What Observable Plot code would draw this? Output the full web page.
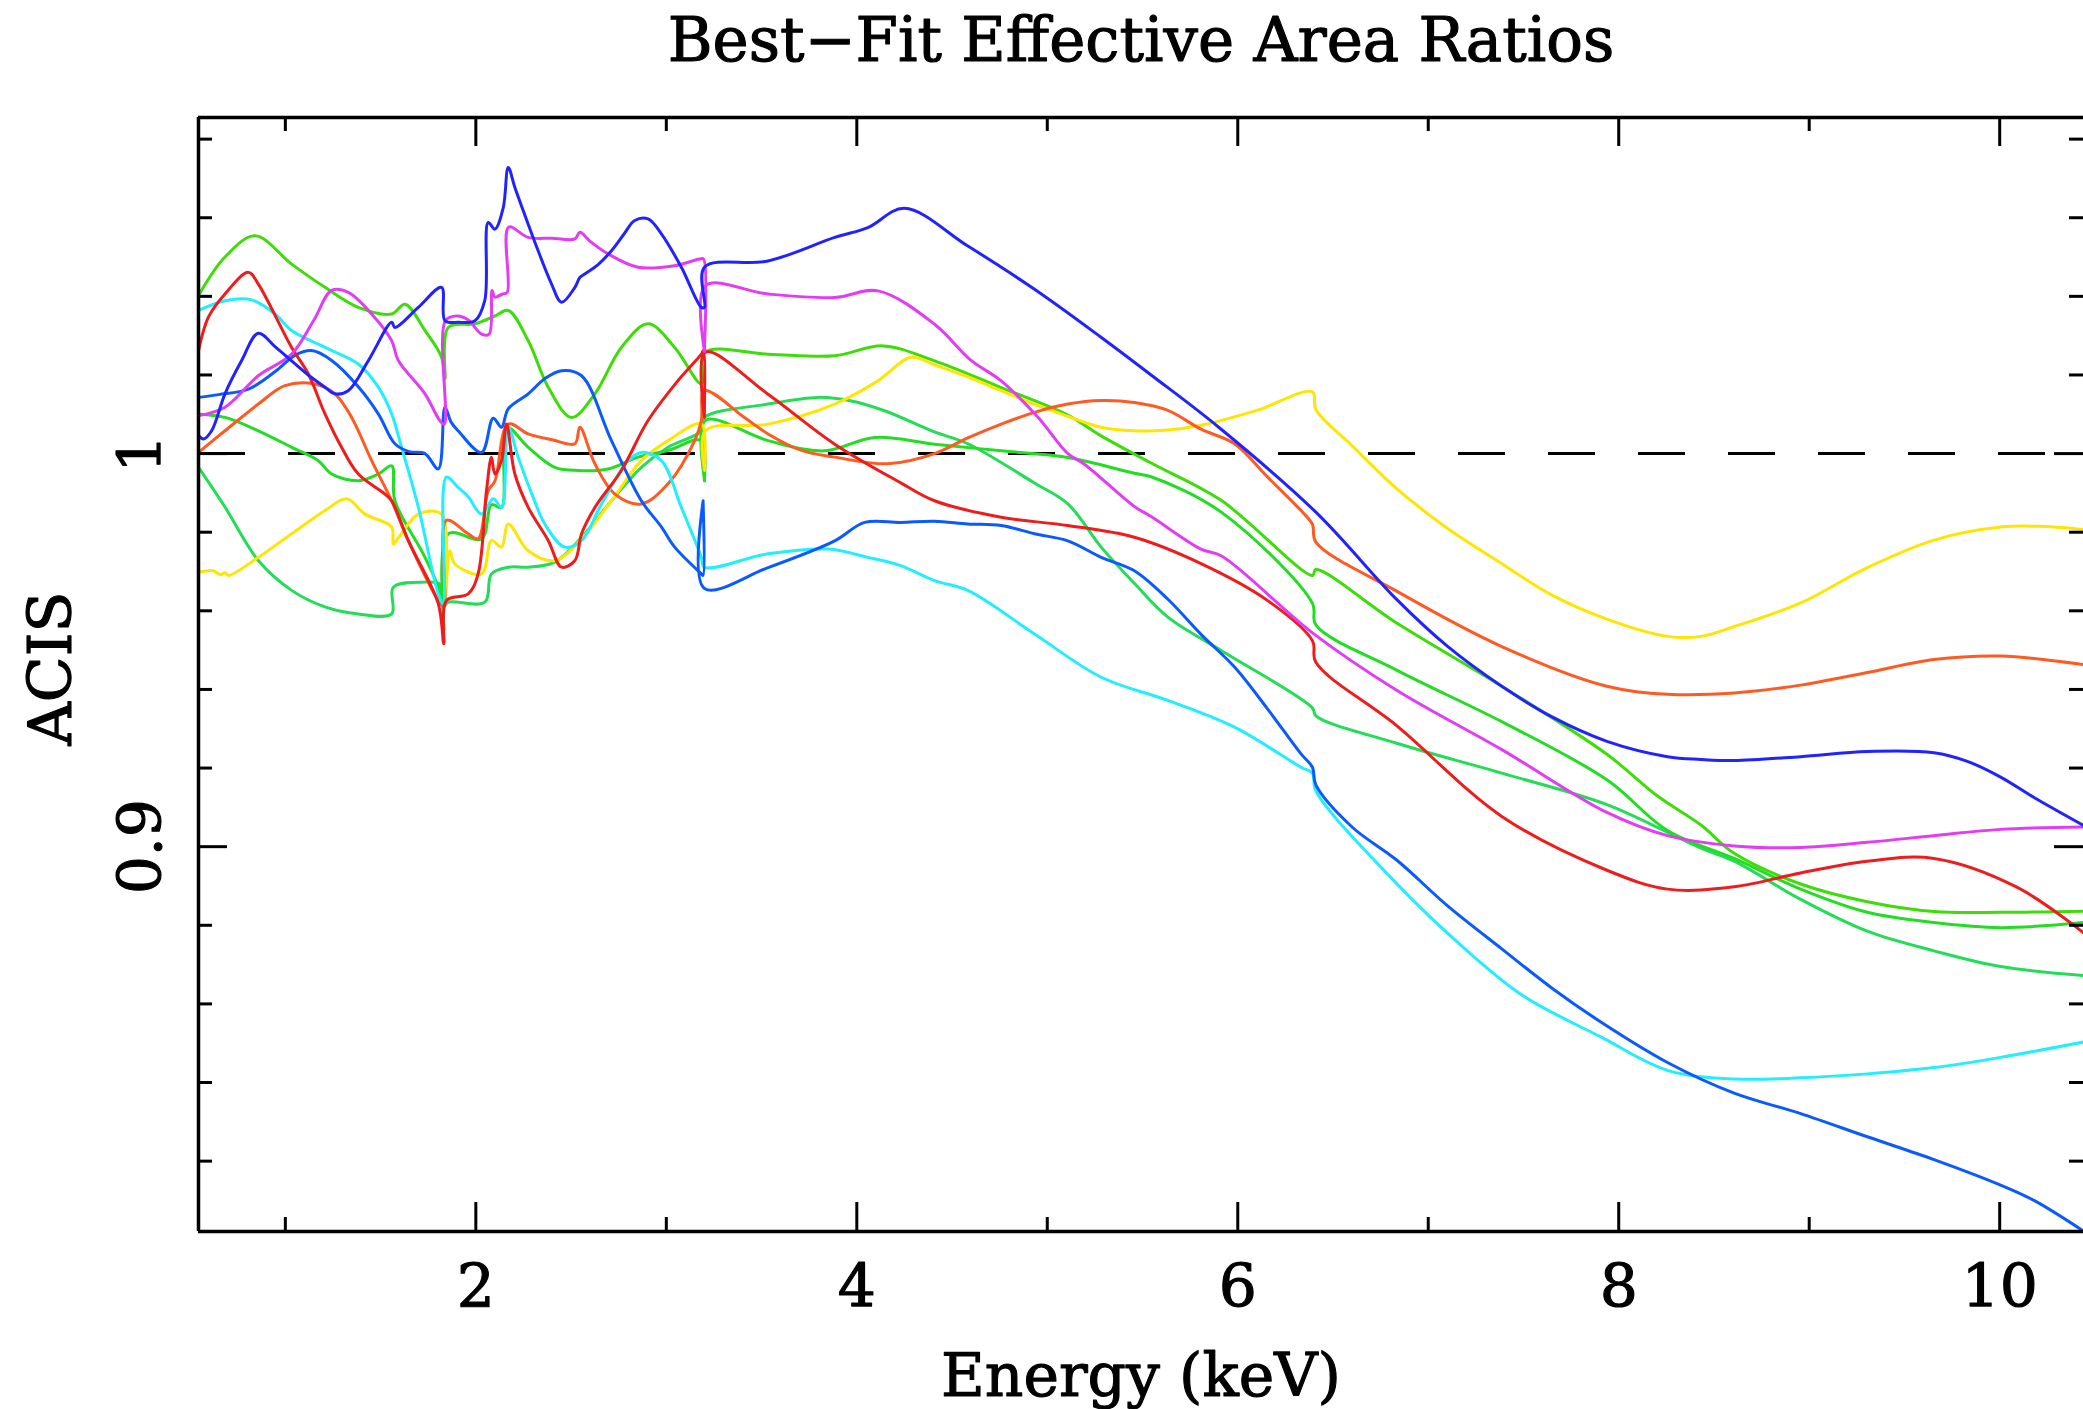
<!DOCTYPE html>
<html><head><meta charset="utf-8">
<script src="https://cdn.jsdelivr.net/npm/d3@7"></script>
<script src="https://cdn.jsdelivr.net/npm/@observablehq/plot@0.6"></script>
<style>
html,body{margin:0;padding:0;background:#fff;}
#chart{width:2083px;height:1409px;overflow:hidden;}
svg{display:block;}
</style></head><body><div id="chart"></div>
<script>
// ---- axis settings / tick values ----
const xDomain = [0.544, 10.44];
const yDomain = [0.8021, 1.0855];
const xMajor = [2, 4, 6, 8, 10];
const xMinor = [1, 3, 5, 7, 9];
const xTickLabels = ["2", "4", "6", "8", "10"];
const yMajor = [0.9, 1.0];
const yTickLabels = ["0.9", "1"];
const yMinor = [0.82, 0.84, 0.86, 0.88, 0.92, 0.94, 0.96, 0.98, 1.02, 1.04, 1.06, 1.08];
const referenceLevel = [1];
const titleText = "Best\u2212Fit Effective Area Ratios";
const xLabel = "Energy (keV)";
const yLabel = "ACIS";

// ---- series: [energy keV, ratio] ----
const blue = [[0.547,1.0045],[0.57,1.0037],[0.613,1.0058],[0.683,1.0152],[0.77,1.0236],[0.858,1.0306],[0.95,1.027],[1.033,1.0236],[1.12,1.0200],[1.208,1.0169],[1.26,1.0152],[1.33,1.016],[1.435,1.0236],[1.558,1.0334],[1.575,1.0321],[1.698,1.0372],[1.82,1.0423],[1.838,1.0338],[1.907,1.0334],[1.995,1.0338],[2.047,1.039],[2.065,1.0588],[2.1,1.0571],[2.144,1.0626],[2.17,1.0728],[2.205,1.0677],[2.27,1.059],[2.327,1.0516],[2.397,1.0432],[2.45,1.0385],[2.52,1.0423],[2.546,1.0448],[2.572,1.0457],[2.64,1.048],[2.712,1.0516],[2.78,1.056],[2.834,1.0593],[2.904,1.0597],[2.974,1.0559],[3.079,1.0474],[3.184,1.0372],[3.2,1.0372],[3.2,1.0474],[3.534,1.049],[3.884,1.055],[4.058,1.0575],[4.25,1.0624],[4.583,1.0528],[4.933,1.0418],[5.282,1.0296],[5.545,1.020],[5.9,1.0067],[6.41,0.9851],[6.834,0.9629],[7.1,0.951],[7.386,0.9408],[7.65,0.933],[7.938,0.9268],[8.256,0.9229],[8.432,0.9222],[8.606,0.9219],[8.955,0.9229],[9.305,0.9242],[9.655,0.9239],[9.83,0.9217],[10.005,0.9177],[10.18,0.9125],[10.44,0.9054]];
const magenta = [[0.547,1.0097],[0.683,1.0118],[0.858,1.0198],[1.033,1.0253],[1.15,1.034],[1.243,1.0415],[1.33,1.041],[1.453,1.0355],[1.558,1.0287],[1.593,1.0237],[1.733,1.0152],[1.811,1.0084],[1.835,1.0075],[1.84,1.0338],[1.9,1.035],[1.96,1.034],[2.03,1.0304],[2.07,1.0304],[2.085,1.0415],[2.1,1.0398],[2.14,1.0406],[2.165,1.041],[2.172,1.0576],[2.275,1.055],[2.4,1.0548],[2.52,1.0546],[2.546,1.0563],[2.6,1.054],[2.695,1.0508],[2.852,1.0474],[3.044,1.0478],[3.175,1.0495],[3.195,1.0495],[3.2,1.026],[3.205,1.0427],[3.534,1.0406],[3.884,1.0397],[4.111,1.0414],[4.408,1.0329],[4.6,1.0237],[4.758,1.0185],[4.95,1.0093],[5.108,1.0],[5.195,0.9973],[5.458,0.9865],[5.545,0.984],[5.807,0.9757],[5.913,0.974],[6.392,0.9544],[6.834,0.9398],[7.386,0.9247],[7.938,0.9087],[8.256,0.9028],[8.606,0.9002],[8.955,0.8998],[9.305,0.9011],[9.655,0.9028],[10.005,0.9044],[10.44,0.905]];
const cyan = [[0.544,1.0364],[0.683,1.0389],[0.823,1.0391],[0.946,1.0355],[1.033,1.0313],[1.208,1.027],[1.383,1.0228],[1.488,1.0169],[1.558,1.0101],[1.61,1.0016],[1.698,0.9864],[1.803,0.9643],[1.829,0.9618],[1.845,0.994],[1.907,0.9914],[1.96,0.989],[2.03,0.9846],[2.091,0.9885],[2.135,0.9863],[2.17,1.0067],[2.222,0.9991],[2.3,0.989],[2.362,0.9821],[2.467,0.9762],[2.555,0.9779],[2.66,0.9872],[2.8,0.9982],[2.869,1.0003],[2.974,0.9982],[3.079,0.9863],[3.184,0.9736],[3.2,0.9711],[3.534,0.9745],[3.849,0.9757],[4.058,0.9736],[4.23,0.9715],[4.408,0.9677],[4.583,0.9652],[4.933,0.9541],[5.283,0.9431],[5.633,0.9372],[5.983,0.9304],[6.332,0.9202],[6.392,0.9187],[6.41,0.9142],[6.834,0.8906],[7.2,0.8737],[7.5,0.862],[7.906,0.8516],[8.256,0.8431],[8.606,0.8409],[8.955,0.8412],[9.305,0.8422],[9.655,0.8438],[10.005,0.8464],[10.44,0.8503]];
const red = [[0.544,1.0262],[0.596,1.0347],[0.683,1.0406],[0.806,1.0461],[0.858,1.0431],[1.033,1.027],[1.12,1.0203],[1.208,1.0101],[1.295,1.0016],[1.383,0.9948],[1.523,0.9897],[1.558,0.988],[1.645,0.9779],[1.803,0.9618],[1.832,0.9516],[1.845,0.9626],[1.96,0.9643],[2.012,0.9694],[2.056,0.9906],[2.082,0.9991],[2.1,0.9948],[2.135,0.9982],[2.161,1.0075],[2.205,0.9948],[2.275,0.9863],[2.38,0.9779],[2.45,0.9711],[2.52,0.9728],[2.555,0.9796],[2.625,0.9863],[2.764,0.9957],[2.904,1.0084],[3.062,1.0186],[3.184,1.0253],[3.195,1.0262],[3.2,1.0092],[3.205,1.0258],[3.534,1.0151],[3.884,1.0024],[4.233,0.9925],[4.408,0.988],[4.758,0.9838],[5.108,0.9817],[5.457,0.9787],[5.807,0.972],[6.157,0.9626],[6.392,0.9524],[6.41,0.9469],[6.834,0.9308],[7.386,0.9077],[7.938,0.894],[8.256,0.8892],[8.606,0.8898],[8.955,0.8933],[9.305,0.8963],[9.655,0.897],[10.09,0.8897],[10.44,0.8781]];
const orange = [[0.544,1.0003],[0.683,1.0058],[0.858,1.0126],[0.998,1.0173],[1.155,1.0177],[1.26,1.0152],[1.348,1.0092],[1.453,0.9982],[1.558,0.988],[1.645,0.9779],[1.803,0.9626],[1.832,0.961],[1.845,0.983],[1.96,0.9796],[2.012,0.9783],[2.065,0.9906],[2.1,0.993],[2.17,1.0075],[2.275,1.005],[2.4,1.0035],[2.52,1.0025],[2.546,1.0067],[2.625,0.9974],[2.73,0.9897],[2.869,0.9872],[3.009,0.9923],[3.149,1.0033],[3.184,1.0084],[3.2,1.016],[3.41,1.0092],[3.534,1.005],[3.71,1.0008],[3.884,0.9991],[4.163,0.9974],[4.408,1.0],[4.583,1.004],[4.758,1.0075],[4.933,1.0105],[5.108,1.0126],[5.283,1.0135],[5.457,1.013],[5.633,1.011],[5.807,1.0062],[5.983,1.0025],[6.157,0.994],[6.332,0.9855],[6.392,0.982],[6.41,0.9775],[6.834,0.965],[7.386,0.9509],[7.938,0.9408],[8.256,0.9388],[8.606,0.9391],[8.955,0.9411],[9.305,0.9443],[9.655,0.9476],[10.005,0.9485],[10.44,0.9463]];
const yellow = [[0.544,0.9698],[0.62,0.9702],[0.66,0.9692],[0.683,0.9697],[0.701,0.969],[0.858,0.9736],[1.033,0.9796],[1.208,0.9855],[1.322,0.9885],[1.418,0.9846],[1.558,0.9813],[1.567,0.977],[1.6,0.979],[1.698,0.9846],[1.82,0.9846],[1.838,0.9626],[1.864,0.9753],[1.89,0.9719],[2.03,0.9694],[2.082,0.9779],[2.135,0.9762],[2.17,0.9821],[2.275,0.9753],[2.415,0.9728],[2.555,0.9783],[2.712,0.988],[2.869,0.9982],[3.009,1.0033],[3.184,1.0075],[3.2,0.9957],[3.205,1.0058],[3.534,1.0075],[3.884,1.0126],[4.111,1.0185],[4.285,1.0245],[4.41,1.0225],[4.583,1.0195],[4.758,1.016],[4.933,1.0125],[5.108,1.0095],[5.283,1.0067],[5.457,1.0058],[5.632,1.006],[5.807,1.0072],[6.1,1.011],[6.392,1.0157],[6.41,1.0112],[6.6,1.002],[6.834,0.9911],[7.1,0.981],[7.386,0.972],[7.65,0.964],[7.938,0.9579],[8.256,0.9535],[8.432,0.9535],[8.606,0.956],[8.955,0.962],[9.305,0.971],[9.655,0.978],[10.005,0.9813],[10.2,0.9815],[10.44,0.9807]];
const greenA = [[0.544,1.0402],[0.683,1.05],[0.841,1.0554],[1.033,1.0482],[1.208,1.0423],[1.383,1.0372],[1.558,1.0355],[1.628,1.038],[1.733,1.0313],[1.82,1.0245],[1.838,1.019],[1.855,1.0321],[1.995,1.033],[2.1,1.035],[2.17,1.0364],[2.275,1.0287],[2.38,1.0169],[2.502,1.0092],[2.625,1.0152],[2.764,1.027],[2.904,1.033],[3.044,1.027],[3.184,1.0177],[3.2,1.0257],[3.534,1.0253],[3.884,1.0249],[4.137,1.0274],[4.408,1.0236],[4.758,1.0168],[5.108,1.0098],[5.283,1.0045],[5.545,0.9976],[5.913,0.9881],[6.392,0.969],[6.41,0.9705],[6.834,0.9569],[7.386,0.9408],[7.938,0.9235],[8.2,0.913],[8.432,0.9055],[8.606,0.8983],[8.955,0.8905],[9.305,0.886],[9.655,0.8835],[10.005,0.8833],[10.44,0.8836]];
const greenC = [[0.544,1.0101],[0.683,1.0092],[0.858,1.0058],[1.033,1.0016],[1.173,0.9982],[1.243,0.9948],[1.383,0.9931],[1.488,0.9948],[1.558,0.9969],[1.575,0.988],[1.733,0.9736],[1.82,0.9635],[1.832,0.955],[1.855,0.9796],[2.03,0.9783],[2.082,0.987],[2.135,0.9863],[2.161,1.0067],[2.275,1.0016],[2.415,0.9965],[2.537,0.9957],[2.695,0.9961],[2.852,0.9991],[3.009,1.0008],[3.184,1.0033],[3.2,0.993],[3.205,1.0084],[3.534,1.0033],[3.831,1.0007],[4.093,1.0041],[4.408,1.0024],[4.758,1.0007],[5.108,0.999],[5.457,0.995],[5.545,0.9941],[5.913,0.9851],[6.392,0.9619],[6.41,0.9564],[6.834,0.9449],[7.386,0.9318],[7.938,0.917],[8.256,0.9041],[8.606,0.897],[8.955,0.8892],[9.305,0.8833],[9.655,0.8807],[10.005,0.8794],[10.44,0.8807]];
const greenB = [[0.544,0.9965],[0.683,0.9864],[0.858,0.9728],[1.033,0.9652],[1.208,0.961],[1.383,0.9592],[1.558,0.9592],[1.567,0.966],[1.733,0.9673],[1.81,0.9668],[1.832,0.961],[1.855,0.9622],[2.047,0.9622],[2.082,0.9694],[2.17,0.9711],[2.275,0.9711],[2.415,0.9724],[2.555,0.9787],[2.712,0.988],[2.869,0.9965],[3.009,1.0016],[3.184,1.0058],[3.2,1.0092],[3.534,1.0126],[3.796,1.0143],[3.971,1.0134],[4.146,1.0109],[4.408,1.0055],[4.583,1.0025],[4.933,0.9925],[5.108,0.9872],[5.283,0.9762],[5.457,0.967],[5.633,0.9584],[5.913,0.9499],[6.392,0.9353],[6.41,0.9333],[6.834,0.9263],[7.386,0.9187],[7.938,0.9107],[8.432,0.8996],[8.606,0.8963],[8.955,0.8866],[9.305,0.8785],[9.655,0.8735],[10.005,0.8695],[10.44,0.8672]];
const azure = [[0.547,1.0143],[0.65,1.015],[0.806,1.0164],[0.95,1.021],[1.05,1.025],[1.138,1.0262],[1.243,1.0237],[1.383,1.017],[1.488,1.0101],[1.575,1.0025],[1.65,1.0005],[1.733,1.0],[1.803,0.9961],[1.838,1.0118],[1.87,1.008],[1.907,1.0058],[2.03,1.0003],[2.091,1.009],[2.135,1.0067],[2.17,1.0114],[2.275,1.0152],[2.36,1.019],[2.45,1.0211],[2.555,1.0198],[2.712,1.0033],[2.869,0.988],[2.975,0.9813],[3.044,0.9762],[3.184,0.9694],[3.193,0.969],[3.193,0.988],[3.2,0.9657],[3.534,0.971],[3.884,0.9778],[4.041,0.9825],[4.23,0.9825],[4.408,0.9828],[4.583,0.9821],[4.758,0.9817],[4.933,0.9796],[5.108,0.9778],[5.283,0.9736],[5.457,0.9702],[5.632,0.963],[5.807,0.954],[5.983,0.9457],[6.157,0.935],[6.332,0.9236],[6.392,0.9202],[6.41,0.9157],[6.6,0.905],[6.834,0.8966],[7.1,0.885],[7.386,0.874],[7.65,0.864],[7.906,0.8554],[8.256,0.8451],[8.606,0.8373],[8.955,0.8321],[9.305,0.8262],[9.655,0.8204],[10.005,0.8139],[10.18,0.81],[10.44,0.8022]];

const seriesNames  = ["greenB","greenC","greenA","yellow","orange","cyan","azure","red","magenta","blue"];
const seriesData   = [greenB, greenC, greenA, yellow, orange, cyan, azure, red, magenta, blue];
const seriesColors = ["#22dd55","#22dd22","#3ddd08","#ffe600","#ff5a22","#22eeff","#0a5aff","#ee1c1c","#e33cf5","#2222ff"];

const rows = seriesNames.flatMap((name, i) =>
  seriesData[i].map(([energy, ratio]) => ({series: name, energy, ratio})));

// ---- layout (pixels) ----
const W = 2083, H = 1409;
const mL = 198, mR = 0, mT = 117, mB = 178;
const fw = W - mL - mR, fh = H - mT - mB;
const majorLen = 29, minorLen = 14;
const font = "DejaVu Serif";
const fs = 60;
const textStyle = {fontFamily: font, fill: "#000", stroke: "#000", strokeWidth: 1.1};

const chart = Plot.plot({
  width: W, height: H,
  marginLeft: mL, marginRight: mR, marginTop: mT, marginBottom: mB,
  x: {domain: xDomain, axis: null},
  y: {domain: yDomain, axis: null},
  color: {domain: seriesNames, range: seriesColors},
  style: {background: "#fff", fontFamily: font},
  marks: [
    Plot.ruleY(referenceLevel, {y: d => d, stroke: "#000", strokeWidth: 3, strokeDasharray: "47,43"}),
    Plot.line(rows, {x: "energy", y: "ratio", z: "series", stroke: "series", strokeWidth: 3, curve: "catmull-rom", clip: true}),
    // frame (right side falls outside the picture)
    Plot.ruleX([xDomain[0]], {x: d => d, stroke: "#000", strokeWidth: 3.5}),
    Plot.ruleY(yDomain, {y: d => d, stroke: "#000", strokeWidth: 3.5}),
    // inward ticks on all sides
    Plot.tickX(xMajor, {x: d => d, insetTop: fh - majorLen, stroke: "#000", strokeWidth: 3}),
    Plot.tickX(xMajor, {x: d => d, insetBottom: fh - majorLen, stroke: "#000", strokeWidth: 3}),
    Plot.tickX(xMinor, {x: d => d, insetTop: fh - minorLen, stroke: "#000", strokeWidth: 3}),
    Plot.tickX(xMinor, {x: d => d, insetBottom: fh - minorLen, stroke: "#000", strokeWidth: 3}),
    Plot.tickY(yMajor, {y: d => d, insetRight: fw - majorLen, stroke: "#000", strokeWidth: 3}),
    Plot.tickY(yMajor, {y: d => d, insetLeft: fw - majorLen, stroke: "#000", strokeWidth: 3}),
    Plot.tickY(yMinor, {y: d => d, insetRight: fw - minorLen, stroke: "#000", strokeWidth: 3}),
    Plot.tickY(yMinor, {y: d => d, insetLeft: fw - minorLen, stroke: "#000", strokeWidth: 3}),
    // tick labels
    Plot.text(xMajor, {x: d => d, text: (d, i) => xTickLabels[i], frameAnchor: "bottom", dy: 75, lineAnchor: "bottom", textAnchor: "middle", fontSize: fs, ...textStyle}),
    Plot.text(yMajor, {y: d => d, text: (d, i) => yTickLabels[i], frameAnchor: "left", dx: -38, rotate: -90, lineAnchor: "bottom", textAnchor: "middle", fontSize: fs, ...textStyle}),
    // titles
    Plot.text([titleText], {text: d => d, frameAnchor: "top", dy: -57, lineAnchor: "bottom", textAnchor: "middle", fontSize: 61, ...textStyle}),
    Plot.text([xLabel], {text: d => d, frameAnchor: "bottom", dy: 164, lineAnchor: "bottom", textAnchor: "middle", fontSize: fs, ...textStyle}),
    Plot.text([yLabel], {text: d => d, frameAnchor: "left", dx: -128, dy: -6, rotate: -90, lineAnchor: "bottom", textAnchor: "middle", fontSize: fs, ...textStyle})
  ]
});
document.getElementById("chart").appendChild(chart);
</script>
</body></html>
